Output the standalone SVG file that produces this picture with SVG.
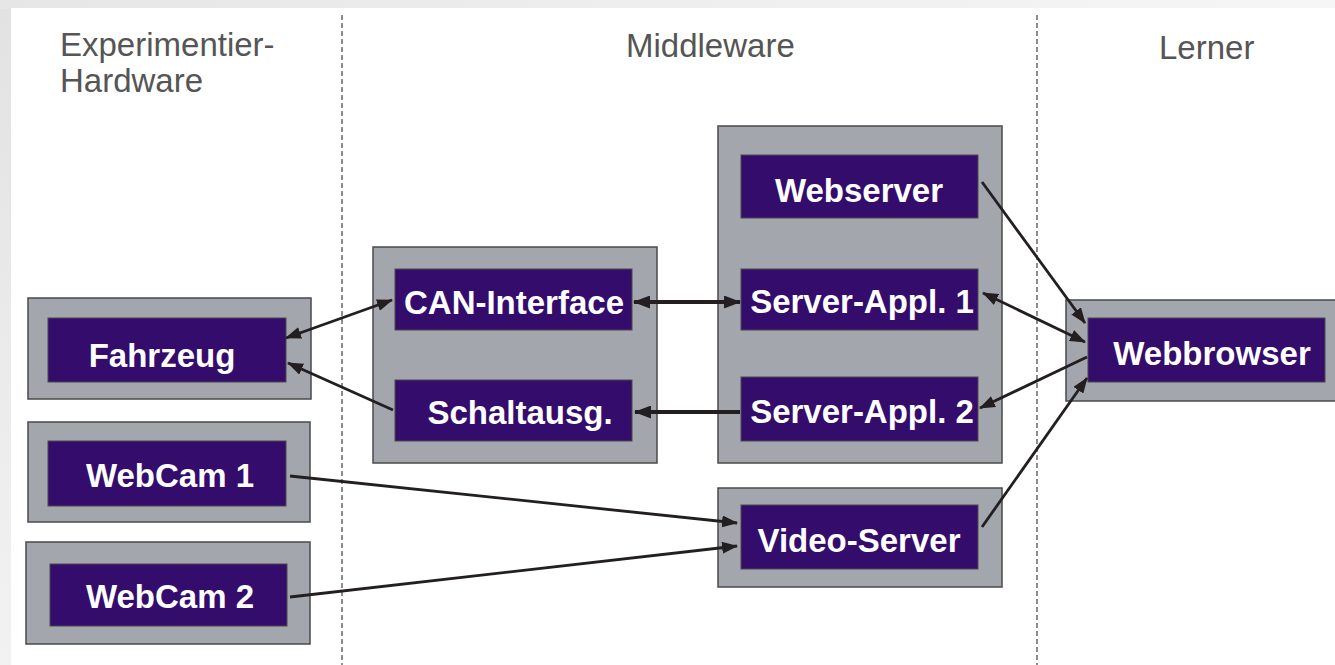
<svg xmlns="http://www.w3.org/2000/svg" width="1335" height="665" viewBox="0 0 1335 665">
  <defs>
    <linearGradient id="frameLeft" x1="0" y1="0" x2="0" y2="1">
      <stop offset="0" stop-color="#e2e2e2"/>
      <stop offset="1" stop-color="#f2f2f2"/>
    </linearGradient>
    <linearGradient id="frameTop" x1="0" y1="0" x2="1" y2="0">
      <stop offset="0" stop-color="#e6e6e6"/>
      <stop offset="1" stop-color="#f6f6f6"/>
    </linearGradient>
    <marker id="arr" viewBox="0 0 16 12" refX="15" refY="6" markerWidth="16" markerHeight="12" markerUnits="userSpaceOnUse" orient="auto-start-reverse">
      <path d="M0,0 L16,6 L0,12 z" fill="#231f20"/>
    </marker>
    <marker id="arrBig" viewBox="0 0 17 13" refX="16" refY="6.5" markerWidth="17" markerHeight="13" markerUnits="userSpaceOnUse" orient="auto-start-reverse">
      <path d="M0,0 L17,6.5 L0,13 z" fill="#231f20"/>
    </marker>
  </defs>
  <style>
    .outer { fill: #a4a6ae; stroke: #4a4a4a; stroke-width: 1.5; }
    .inner { fill: #330c6c; stroke: #4a4a4a; stroke-width: 1; }
    .lbl { font-family: "Liberation Sans", Arial, sans-serif; font-weight: bold; font-size: 33px; fill: #ffffff; text-anchor: middle; }
    .head { font-family: "Liberation Sans", Arial, sans-serif; font-size: 33px; fill: #555555; }
    .lane { stroke: #444444; stroke-width: 1.2; stroke-dasharray: 5 3; fill: none; }
    .con { stroke: #231f20; stroke-width: 2.8; fill: none; }
    .conBig { stroke: #231f20; stroke-width: 4; fill: none; }
  </style>

  <!-- page background with soft frame at top and left -->
  <rect x="0" y="0" width="1335" height="665" fill="url(#frameLeft)"/>
  <rect x="0" y="0" width="1335" height="9" fill="url(#frameTop)"/>
  <rect x="11" y="8" width="1324" height="657" fill="#ffffff"/>

  <!-- lane separators -->
  <g id="lanes">
    <line class="lane" x1="342" y1="15" x2="342" y2="665"/>
    <line class="lane" x1="1037" y1="15" x2="1037" y2="665"/>
  </g>

  <!-- lane headings -->
  <g id="headings">
    <text class="head" x="60" y="56">Experimentier-</text>
    <text class="head" x="60" y="92">Hardware</text>
    <text class="head" x="626" y="57">Middleware</text>
    <text class="head" x="1159" y="59">Lerner</text>
  </g>

  <!-- hardware side -->
  <g id="fahrzeug">
    <rect class="outer" x="28" y="298" width="283" height="101"/>
    <rect class="inner" x="48" y="318" width="238" height="64"/>
    <text class="lbl" x="162" y="367">Fahrzeug</text>
  </g>
  <g id="webcam1">
    <rect class="outer" x="28" y="422" width="282" height="100"/>
    <rect class="inner" x="48" y="441" width="238" height="65"/>
    <text class="lbl" x="170" y="487">WebCam 1</text>
  </g>
  <g id="webcam2">
    <rect class="outer" x="26" y="542" width="284" height="102"/>
    <rect class="inner" x="50" y="564" width="237" height="62"/>
    <text class="lbl" x="170" y="608">WebCam 2</text>
  </g>

  <!-- middleware: interface unit -->
  <g id="interface-unit">
    <rect class="outer" x="373" y="247" width="284" height="216"/>
  </g>
  <g id="can-interface">
    <rect class="inner" x="395" y="269" width="237" height="61"/>
    <text class="lbl" x="514" y="314">CAN-Interface</text>
  </g>
  <g id="schaltausg">
    <rect class="inner" x="395" y="380" width="237" height="61"/>
    <text class="lbl" x="520" y="424">Schaltausg.</text>
  </g>

  <!-- middleware: server unit -->
  <g id="server-unit">
    <rect class="outer" x="718" y="126" width="284" height="337"/>
  </g>
  <g id="webserver">
    <rect class="inner" x="741" y="155" width="237" height="63"/>
    <text class="lbl" x="859" y="202">Webserver</text>
  </g>
  <g id="server-appl-1">
    <rect class="inner" x="741" y="269" width="237" height="61"/>
    <text class="lbl" x="862" y="313">Server-Appl. 1</text>
  </g>
  <g id="server-appl-2">
    <rect class="inner" x="741" y="377" width="237" height="64"/>
    <text class="lbl" x="862" y="423">Server-Appl. 2</text>
  </g>
  <g id="video-server">
    <rect class="outer" x="718" y="488" width="284" height="99"/>
    <rect class="inner" x="741" y="505" width="237" height="64"/>
    <text class="lbl" x="859" y="552">Video-Server</text>
  </g>

  <!-- learner side -->
  <g id="webbrowser">
    <rect class="outer" x="1066" y="300" width="280" height="101"/>
    <rect class="inner" x="1088" y="318" width="237" height="64"/>
    <text class="lbl" x="1212" y="365">Webbrowser</text>
  </g>

  <!-- connectors -->
  <g id="connectors">
    <line class="con" x1="286" y1="338" x2="392" y2="300" marker-start="url(#arr)" marker-end="url(#arr)"/>
    <line class="con" x1="393" y1="410" x2="288" y2="363" marker-end="url(#arr)"/>
    <line class="conBig" x1="634" y1="302" x2="740" y2="302" marker-start="url(#arrBig)" marker-end="url(#arrBig)"/>
    <line class="conBig" x1="740" y1="412" x2="635" y2="412" marker-end="url(#arrBig)"/>
    <line class="con" x1="982" y1="182" x2="1085" y2="323" marker-end="url(#arr)"/>
    <line class="con" x1="983" y1="293" x2="1085" y2="342" marker-start="url(#arr)" marker-end="url(#arr)"/>
    <line class="con" x1="1087" y1="357" x2="980" y2="408" marker-end="url(#arr)"/>
    <line class="con" x1="982" y1="527" x2="1087" y2="378" marker-end="url(#arr)"/>
    <line class="con" x1="290" y1="476" x2="737" y2="523" marker-end="url(#arr)"/>
    <line class="con" x1="290" y1="597" x2="737" y2="546" marker-end="url(#arr)"/>
  </g>
</svg>
